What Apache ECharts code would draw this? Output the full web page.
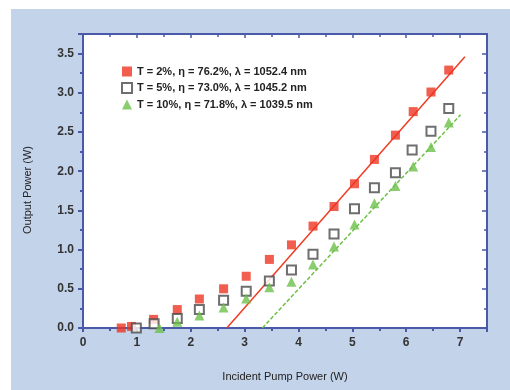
<!DOCTYPE html>
<html>
<head>
<meta charset="utf-8">
<script src="https://cdn.jsdelivr.net/npm/echarts@6/dist/echarts.min.js"></script>
<style>
  body { margin: 0; background: #ffffff; }
  .panel { position: absolute; left: 11px; top: 9px; width: 499px; height: 381px; background: #c3d3ea; }
  #chart { position: absolute; left: 0; top: 0; width: 510px; height: 390px; }
</style>
</head>
<body>
<div class="panel"></div>
<div id="chart"></div>
<script>
  // 读图得到的数据 (incident pump power W, output power W)
  var legendNames = [
    'T = 2%, \u03b7 = 76.2%, \u03bb = 1052.4 nm',
    'T = 5%, \u03b7 = 73.0%, \u03bb = 1045.2 nm',
    'T = 10%, \u03b7 = 71.8%, \u03bb = 1039.5 nm'
  ];
  var pumpRed = [0.71, 0.90, 1.31, 1.75, 2.16, 2.61, 3.03, 3.46, 3.87, 4.27, 4.66, 5.04, 5.41, 5.80, 6.13, 6.46, 6.79];
  var outRed = [0.0, 0.02, 0.11, 0.235, 0.37, 0.50, 0.66, 0.875, 1.06, 1.30, 1.55, 1.84, 2.15, 2.46, 2.76, 3.01, 3.29];
  var pumpBlack = [0.99, 1.32, 1.75, 2.16, 2.61, 3.03, 3.46, 3.87, 4.27, 4.66, 5.04, 5.41, 5.80, 6.11, 6.46, 6.79];
  var outBlack = [0.0, 0.055, 0.12, 0.235, 0.355, 0.47, 0.60, 0.74, 0.94, 1.20, 1.52, 1.79, 1.98, 2.27, 2.51, 2.80];
  var pumpGreen = [1.42, 1.75, 2.16, 2.61, 3.03, 3.46, 3.87, 4.27, 4.66, 5.04, 5.41, 5.80, 6.13, 6.46, 6.79];
  var outGreen = [0.0, 0.08, 0.16, 0.26, 0.375, 0.52, 0.59, 0.81, 1.04, 1.32, 1.59, 1.81, 2.06, 2.31, 2.62];
  // 线性拟合线端点
  var fitRed = [[2.67, 0.0], [7.09, 3.46]];
  var fitGreen = [[3.33, 0.0], [7.01, 2.72]];
  var xTicks = [0, 1, 2, 3, 4, 5, 6, 7];
  var yTicks = [0.0, 0.5, 1.0, 1.5, 2.0, 2.5, 3.0, 3.5];

  function zip(xs, ys) {
    var out = [];
    for (var i = 0; i < xs.length; i++) out.push([xs[i], ys[i]]);
    return out;
  }

  var axisBlue = '#4b5aa8';
  var font = 'Liberation Sans';

  var chart = echarts.init(document.getElementById('chart'));
  chart.setOption({
    animation: false,
    grid: { left: 83, right: 23, top: 34, bottom: 62, containLabel: false, show: true, backgroundColor: '#ffffff', borderWidth: 0 },
    legend: {
      data: legendNames,
      orient: 'vertical',
      left: 116,
      top: 61,
      itemGap: 5,
      itemWidth: 10,
      itemHeight: 10,
      textStyle: { fontFamily: font, fontWeight: 'bold', fontSize: 11, color: '#222' }
    },
    xAxis: [
      {
        type: 'value', min: 0, max: 7.5, interval: 1,
        name: 'Incident Pump Power (W)', nameLocation: 'middle', nameGap: 43,
        nameTextStyle: { fontFamily: font, fontSize: 11, color: '#222' },
        axisLine: { show: true, onZero: false, lineStyle: { color: axisBlue, width: 2 } },
        axisTick: { length: 4, lineStyle: { color: axisBlue, width: 2 } },
        minorTick: { show: true, splitNumber: 2, length: 3, lineStyle: { color: axisBlue, width: 2 } },
        splitLine: { show: false },
        axisLabel: {
          margin: 9, fontFamily: font, fontWeight: 'bold', fontSize: 12, color: '#333',
          formatter: function (v) { return xTicks.indexOf(v) >= 0 ? String(v) : ''; }
        }
      },
      {
        type: 'value', min: 0, max: 7.5, interval: 1, position: 'top',
        axisLine: { show: true, onZero: false, lineStyle: { color: axisBlue, width: 2 } },
        axisTick: { inside: true, length: 4, lineStyle: { color: axisBlue, width: 1.5 } },
        minorTick: { show: true, splitNumber: 2, length: 3, lineStyle: { color: axisBlue, width: 1.5 } },
        splitLine: { show: false },
        axisLabel: { show: false }
      }
    ],
    yAxis: [
      {
        type: 'value', min: 0, max: 3.75, interval: 0.5,
        name: 'Output Power (W)', nameLocation: 'middle', nameGap: 50,
        nameTextStyle: { fontFamily: font, fontSize: 11, color: '#222', padding: [0, 0, 0, -18] },
        axisLine: { show: true, onZero: false, lineStyle: { color: axisBlue, width: 2 } },
        axisTick: { length: 5, lineStyle: { color: axisBlue, width: 2 } },
        minorTick: { show: true, splitNumber: 2, length: 3, lineStyle: { color: axisBlue, width: 2 } },
        splitLine: { show: false },
        axisLabel: {
          margin: 9, fontFamily: font, fontWeight: 'bold', fontSize: 12, color: '#333',
          formatter: function (v) { return yTicks.indexOf(v) >= 0 ? v.toFixed(1) : ''; }
        }
      },
      {
        type: 'value', min: 0, max: 3.75, interval: 0.5, position: 'right',
        axisLine: { show: true, onZero: false, lineStyle: { color: axisBlue, width: 2 } },
        axisTick: { inside: true, length: 5, lineStyle: { color: axisBlue, width: 1.5 } },
        minorTick: { show: true, splitNumber: 2, length: 3, lineStyle: { color: axisBlue, width: 1.5 } },
        splitLine: { show: false },
        axisLabel: { show: false }
      }
    ],
    series: [
      {
        name: 'fit red', type: 'line', data: fitRed, symbol: 'none',
        lineStyle: { color: '#ef3b22', width: 1.5 }, z: 1
      },
      {
        name: 'fit green', type: 'line', data: fitGreen, symbol: 'none',
        lineStyle: { color: '#6dbf45', width: 1.5, type: [4, 2] }, z: 1
      },
      {
        name: legendNames[0], type: 'scatter', data: zip(pumpRed, outRed),
        symbol: 'rect', symbolSize: 9,
        itemStyle: { color: '#ee3522' }, z: 3
      },
      {
        name: legendNames[1], type: 'scatter', data: zip(pumpBlack, outBlack),
        symbol: 'emptyRect', symbolSize: 9,
        itemStyle: { color: '#4a4a4a', borderColor: '#4a4a4a', borderWidth: 1.6 }, z: 3
      },
      {
        name: legendNames[2], type: 'scatter', data: zip(pumpGreen, outGreen),
        symbol: 'triangle', symbolSize: 10,
        itemStyle: { color: '#6cc04a' }, z: 3
      }
    ]
  });
</script>
</body>
</html>
